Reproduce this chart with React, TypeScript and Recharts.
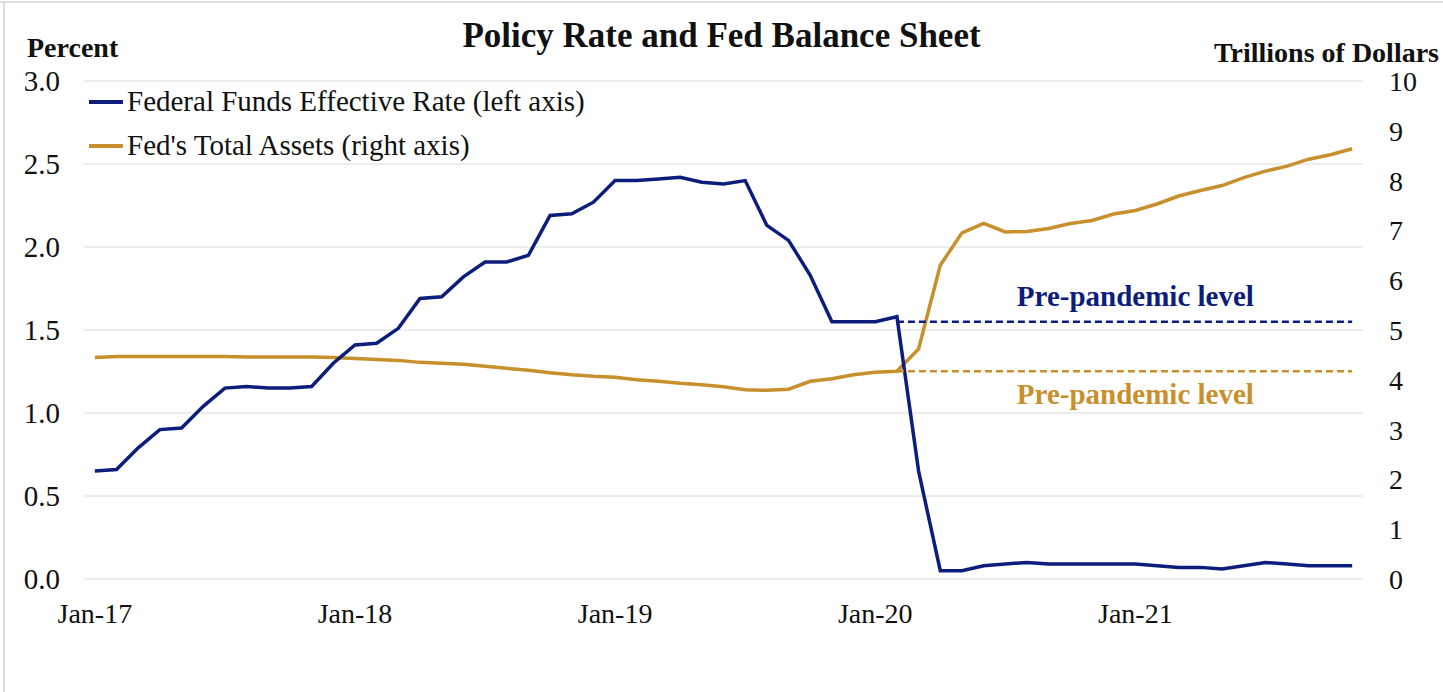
import { LineChart, Line, XAxis, YAxis, CartesianGrid, ReferenceDot } from 'recharts'

// monthly, Jan-17 .. Nov-21
const months = [
  'Jan-17', 'Feb-17', 'Mar-17', 'Apr-17', 'May-17', 'Jun-17', 'Jul-17', 'Aug-17', 'Sep-17', 'Oct-17', 'Nov-17', 'Dec-17',
  'Jan-18', 'Feb-18', 'Mar-18', 'Apr-18', 'May-18', 'Jun-18', 'Jul-18', 'Aug-18', 'Sep-18', 'Oct-18', 'Nov-18', 'Dec-18',
  'Jan-19', 'Feb-19', 'Mar-19', 'Apr-19', 'May-19', 'Jun-19', 'Jul-19', 'Aug-19', 'Sep-19', 'Oct-19', 'Nov-19', 'Dec-19',
  'Jan-20', 'Feb-20', 'Mar-20', 'Apr-20', 'May-20', 'Jun-20', 'Jul-20', 'Aug-20', 'Sep-20', 'Oct-20', 'Nov-20', 'Dec-20',
  'Jan-21', 'Feb-21', 'Mar-21', 'Apr-21', 'May-21', 'Jun-21', 'Jul-21', 'Aug-21', 'Sep-21', 'Oct-21', 'Nov-21',
]

// Federal funds effective rate, percent
const fedFunds = [
  0.65, 0.66, 0.79, 0.9, 0.91, 1.04, 1.15, 1.16, 1.15, 1.15, 1.16, 1.3,
  1.41, 1.42, 1.51, 1.69, 1.7, 1.82, 1.91, 1.91, 1.95, 2.19, 2.2, 2.27,
  2.4, 2.4, 2.41, 2.42, 2.39, 2.38, 2.4, 2.13, 2.04, 1.83, 1.55, 1.55,
  1.55, 1.58, 0.65, 0.05, 0.05, 0.08, 0.09, 0.1, 0.09, 0.09, 0.09, 0.09,
  0.09, 0.08, 0.07, 0.07, 0.06, 0.08, 0.1, 0.09, 0.08, 0.08, 0.08,
]

// Fed total assets, trillions of dollars
const totalAssets = [
  4.45, 4.47, 4.47, 4.47, 4.47, 4.47, 4.47, 4.46, 4.46, 4.46, 4.46, 4.45,
  4.43, 4.41, 4.39, 4.35, 4.33, 4.31, 4.27, 4.23, 4.19, 4.14, 4.1, 4.07,
  4.05, 4.0, 3.97, 3.93, 3.9, 3.86, 3.8, 3.79, 3.81, 3.97, 4.02, 4.1,
  4.15, 4.17, 4.62, 6.3, 6.95, 7.14, 6.97, 6.98, 7.04, 7.14, 7.2, 7.33,
  7.4, 7.53, 7.69, 7.8, 7.9, 8.06, 8.19, 8.29, 8.43, 8.52, 8.64,
]

const preRate = 1.55
const preAssets = 4.17
const preStart = 37 // Feb-20

const rateTicks = [0, 0.5, 1, 1.5, 2, 2.5, 3]
const assetTicks = [0, 1, 2, 3, 4, 5, 6, 7, 8, 9, 10]
const yearTicks = [0, 12, 24, 36, 48]
const yearBounds = [-0.5, 11.5, 23.5, 35.5, 47.5]

const data = months.map((m, i) => ({
  i,
  month: m,
  rate: fedFunds[i],
  assets: totalAssets[i],
  preRate: i >= preStart ? preRate : null,
  preAssets: i >= preStart ? preAssets : null,
}))

const NAVY = '#0c1d7c'
const GOLD = '#c88f2d'
const FONT = '"Liberation Serif", "Times New Roman", serif'

export default function App() {
  return (
    <div
      style={{
        position: 'absolute', left: 0, top: 0, width: 1443, height: 692, background: '#fff',
        fontFamily: FONT, color: '#111', lineHeight: 'normal', overflow: 'hidden',
      }}
    >
      <div style={{ position: 'absolute', left: 0, top: 1, width: 1443, height: 2, background: '#dedede' }} />
      <div style={{ position: 'absolute', left: 3, top: 1, width: 2, height: 691, background: '#dedede' }} />

      <div style={{ position: 'absolute', left: 0, width: 1443, top: 16, textAlign: 'center', fontSize: 35, fontWeight: 'bold' }}>
        Policy Rate and Fed Balance Sheet
      </div>
      <div style={{ position: 'absolute', left: 27, top: 32, fontSize: 28, fontWeight: 'bold' }}>Percent</div>
      <div style={{ position: 'absolute', right: 4, top: 37, fontSize: 28, fontWeight: 'bold' }}>Trillions of Dollars</div>

      <div style={{ position: 'absolute', left: 89, top: 100, width: 34, height: 3.5, background: NAVY }} />
      <div style={{ position: 'absolute', left: 127, top: 85, fontSize: 29, whiteSpace: 'nowrap' }}>
        Federal Funds Effective Rate (left axis)
      </div>
      <div style={{ position: 'absolute', left: 89, top: 144, width: 34, height: 3.5, background: GOLD }} />
      <div style={{ position: 'absolute', left: 127, top: 129, fontSize: 29, whiteSpace: 'nowrap' }}>
        Fed's Total Assets (right axis)
      </div>

      <LineChart
        width={1443}
        height={692}
        data={data}
        margin={{ top: 81, right: 20, bottom: 61, left: 22 }}
        style={{ position: 'absolute', left: 0, top: 0 }}
      >
        <CartesianGrid horizontal vertical={false} stroke="#dadada" yAxisId="left" xAxisId="marks" />
        <XAxis
          xAxisId="marks"
          type="number"
          dataKey="i"
          domain={[-0.5, 58.5]}
          ticks={yearBounds}
          tick={false}
          height={0}
          axisLine={{ stroke: '#55639c', strokeWidth: 1.3 }}
          tickLine={{ stroke: '#55639c', strokeWidth: 1.3 }}
          tickSize={9}
        />
        <XAxis
          xAxisId="labels"
          type="number"
          dataKey="i"
          domain={[-0.5, 58.5]}
          ticks={yearTicks}
          tickFormatter={(v) => months[v]}
          axisLine={false}
          tickLine={false}
          tickSize={0}
          tickMargin={24}
          height={52}
          tick={{ fill: '#111', fontSize: 28, fontFamily: FONT }}
        />
        <YAxis
          yAxisId="left"
          domain={[0, 3]}
          ticks={rateTicks}
          tickFormatter={(v) => v.toFixed(1)}
          width={62}
          axisLine={false}
          tickLine={false}
          tickSize={0}
          tickMargin={24}
          tick={{ fill: '#111', fontSize: 29, fontFamily: FONT }}
        />
        <YAxis
          yAxisId="right"
          orientation="right"
          domain={[0, 10]}
          ticks={assetTicks}
          width={60}
          axisLine={false}
          tickLine={false}
          tickSize={0}
          tickMargin={26}
          tick={{ fill: '#111', fontSize: 28, fontFamily: FONT, textAnchor: 'start' }}
        />
        <Line xAxisId="marks" yAxisId="right" dataKey="assets" stroke={GOLD} strokeWidth={3.5} dot={false} isAnimationActive={false} />
        <Line xAxisId="marks" yAxisId="left" dataKey="rate" stroke={NAVY} strokeWidth={3.5} dot={false} isAnimationActive={false} />
        <Line xAxisId="marks" yAxisId="left" dataKey="preRate" stroke={NAVY} strokeWidth={2.5} strokeDasharray="7 4" dot={false} isAnimationActive={false} />
        <Line xAxisId="marks" yAxisId="right" dataKey="preAssets" stroke={GOLD} strokeWidth={2.5} strokeDasharray="7 4" dot={false} isAnimationActive={false} />
        <ReferenceDot
          xAxisId="marks"
          yAxisId="left"
          x={48}
          y={preRate}
          r={0}
          label={{ value: 'Pre-pandemic level', position: 'top', offset: 16, fill: NAVY, fontSize: 29, fontWeight: 'bold', fontFamily: FONT }}
        />
        <ReferenceDot
          xAxisId="marks"
          yAxisId="right"
          x={48}
          y={preAssets}
          r={0}
          label={{ value: 'Pre-pandemic level', position: 'bottom', offset: 12, fill: GOLD, fontSize: 29, fontWeight: 'bold', fontFamily: FONT }}
        />
      </LineChart>
    </div>
  )
}
